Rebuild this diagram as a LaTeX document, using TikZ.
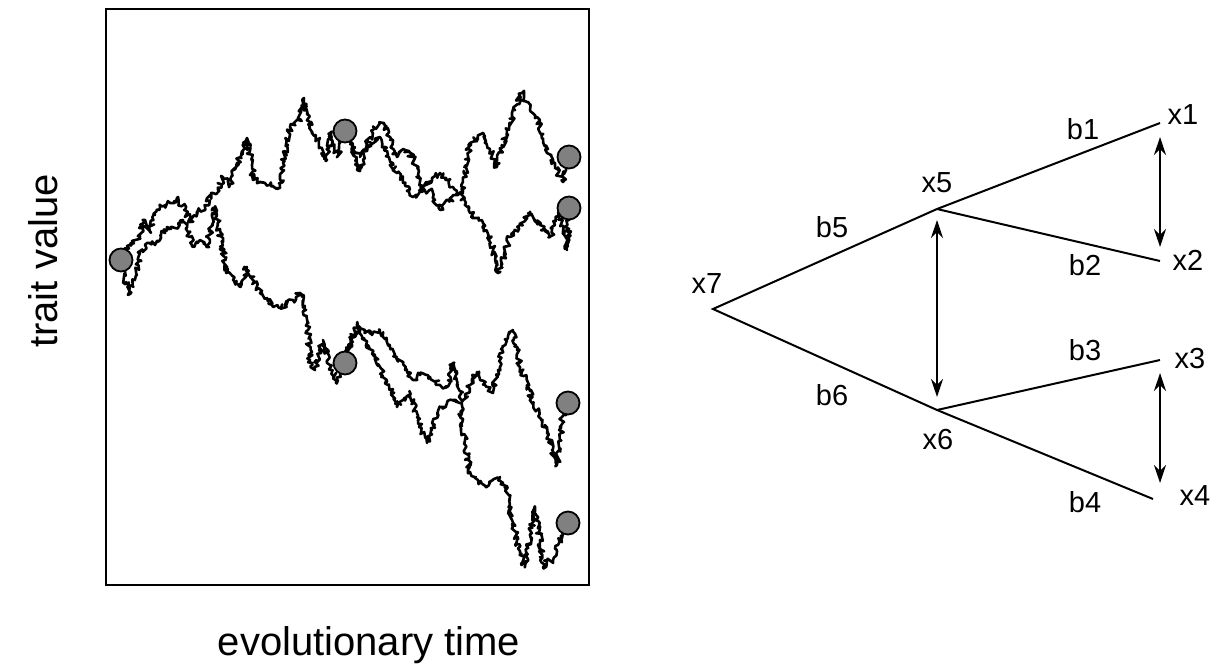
\documentclass[tikz,border=0pt]{standalone}
\usepackage{fontspec}
\setmainfont{Liberation Sans}
\usetikzlibrary{arrows.meta,decorations.pathmorphing}
\begin{document}
\begin{tikzpicture}[x=0.5pt,y=-0.5pt,
  bm/.style={decorate,decoration={random steps,segment length=0.9pt,amplitude=1.5pt},line width=1.3pt,line join=round},
  tip/.style={circle,draw=black,fill=gray,line width=0.9pt,minimum size=11.5pt,inner sep=0pt},
  branch/.style={line width=1pt},
  dbl/.style={line width=1.3pt,{Stealth[length=9pt,width=6pt]}-{Stealth[length=9pt,width=6pt]}},
  lbl/.style={inner sep=0pt,font=\fontsize{14.5pt}{17pt}\selectfont},
  axl/.style={inner sep=0pt,font=\fontsize{20pt}{24pt}\selectfont}]
\useasboundingbox (0,0) rectangle (1220,670);
\pgfmathsetseed{4242}
% frame
\node[draw,line width=1.1pt,inner sep=0pt,minimum width=483pt*0.5,minimum height=576pt*0.5,anchor=north west] (frame) at (105,8) {};
% axis labels
\node[axl,rotate=90,anchor=base] (ylab) at (57,261) {trait value};
\node[axl,anchor=base] (xlab) at (369,655) {evolutionary time};
% Brownian paths
\draw[bm] (121,260) -- (127,246) -- (133,243) -- (140,236) -- (143,220) -- (150,232) -- (155,215) -- (160,207) -- (170,203) -- (177,198) -- (185,210) -- (190,222) -- (197,212) -- (205,207) -- (213,193) -- (218,190) -- (223,177) -- (230,185) -- (237,163) -- (243,150) -- (247,138) -- (252,165) -- (253,180) -- (265,183) -- (280,188) -- (283,163) -- (290,127) -- (300,120) -- (304,98) -- (310,128) -- (315,135) -- (322,148) -- (327,160) -- (330,133) -- (337,157) -- (345,131);
\draw[bm] (121,260) -- (126,282) -- (130,294) -- (135,280) -- (140,253) -- (147,243) -- (155,245) -- (160,240) -- (167,227) -- (175,228) -- (183,220) -- (188,232) -- (193,247) -- (200,240) -- (207,247) -- (212,225) -- (215,207) -- (220,235) -- (227,273) -- (233,280) -- (240,287) -- (247,267) -- (253,280) -- (260,293) -- (267,298) -- (273,307) -- (285,305) -- (293,300) -- (300,293) -- (305,310) -- (308,330) -- (310,360) -- (315,370) -- (323,340) -- (330,365) -- (337,383) -- (345,363);
\draw[bm] (345,131) -- (352,150) -- (360,170) -- (367,145) -- (373,130) -- (383,123) -- (390,140) -- (397,157) -- (405,150) -- (413,157) -- (418,175) -- (423,190) -- (432,178) -- (440,173) -- (447,180) -- (453,187) -- (458,195) -- (463,193) -- (466,165) -- (470,143) -- (477,138) -- (483,133) -- (490,150) -- (497,167) -- (502,148) -- (507,130) -- (515,110) -- (522,93) -- (530,110) -- (537,117) -- (542,135) -- (547,153) -- (555,168) -- (563,182) -- (566,170) -- (569,157);
\draw[bm] (345,131) -- (352,145) -- (360,157) -- (370,145) -- (380,137) -- (388,155) -- (397,173) -- (405,185) -- (413,197) -- (422,192) -- (430,190) -- (435,200) -- (440,210) -- (450,200) -- (460,193) -- (465,205) -- (470,213) -- (477,218) -- (483,223) -- (488,235) -- (493,247) -- (498,273) -- (504,255) -- (510,237) -- (520,225) -- (530,213) -- (540,225) -- (550,237) -- (555,225) -- (560,213) -- (564,235) -- (567,250) -- (569,208);
\draw[bm] (345,363) -- (350,345) -- (357,323) -- (365,330) -- (372,335) -- (380,330) -- (388,345) -- (397,357) -- (405,370) -- (413,380) -- (420,375) -- (430,377) -- (440,385) -- (447,387) -- (453,363) -- (458,385) -- (463,400) -- (470,385) -- (477,372) -- (485,385) -- (493,393) -- (498,370) -- (503,347) -- (508,338) -- (513,330) -- (517,350) -- (520,367) -- (527,385) -- (533,403) -- (540,418) -- (547,433) -- (552,450) -- (557,465) -- (560,440) -- (562,417) -- (568,403);
\draw[bm] (345,363) -- (352,335) -- (360,330) -- (368,345) -- (375,355) -- (380,367) -- (388,385) -- (397,407) -- (403,400) -- (410,393) -- (418,420) -- (427,443) -- (433,425) -- (440,407) -- (447,403) -- (453,400) -- (460,403) -- (465,440) -- (470,473) -- (478,480) -- (487,487) -- (493,480) -- (500,477) -- (507,493) -- (512,520) -- (520,553) -- (525,567) -- (530,535) -- (535,507) -- (540,540) -- (543,567) -- (548,560) -- (553,560) -- (558,545) -- (562,537) -- (568,523);
% trait points
\node[tip] (p7) at (121,260) {};
\node[tip] (p5) at (345,131) {};
\node[tip] (p6) at (345,363) {};
\node[tip] (p1) at (569,157) {};
\node[tip] (p2) at (569,208) {};
\node[tip] (p3) at (568,403) {};
\node[tip] (p4) at (568,523) {};
% tree
\coordinate (n7) at (713,309);
\coordinate (n5) at (937,209);
\coordinate (n6) at (937,410);
\coordinate (n1) at (1160,123);
\coordinate (n2) at (1160,261);
\coordinate (n3) at (1160,360);
\coordinate (n4) at (1153,499);
\draw[branch] (n1) -- (n5) -- (n7) -- (n6) -- (n4);
\draw[branch] (n5) -- (n2);
\draw[branch] (n6) -- (n3);
% arrows
\coordinate (a1) at (937,220);
\coordinate (a2) at (937,397);
\coordinate (a3) at (1160,137);
\coordinate (a4) at (1160,247);
\coordinate (a5) at (1160,373);
\coordinate (a6) at (1160,483);
\draw[dbl] (a1) -- (a2);
\draw[dbl] (a3) -- (a4);
\draw[dbl] (a5) -- (a6);
% labels
\node[lbl] (lx7) at (707,284) {x7};
\node[lbl] (lb5) at (832,227) {b5};
\node[lbl] (lx5) at (937,183) {x5};
\node[lbl] (lb1) at (1083,129) {b1};
\node[lbl] (lx1) at (1183,115) {x1};
\node[lbl] (lx2) at (1188,260) {x2};
\node[lbl] (lb2) at (1085,265) {b2};
\node[lbl] (lb3) at (1085,350) {b3};
\node[lbl] (lx3) at (1190,359) {x3};
\node[lbl] (lx6) at (938,440) {x6};
\node[lbl] (lb6) at (832,395) {b6};
\node[lbl] (lb4) at (1085,502) {b4};
\node[lbl] (lx4) at (1195,496) {x4};
\end{tikzpicture}
\end{document}
